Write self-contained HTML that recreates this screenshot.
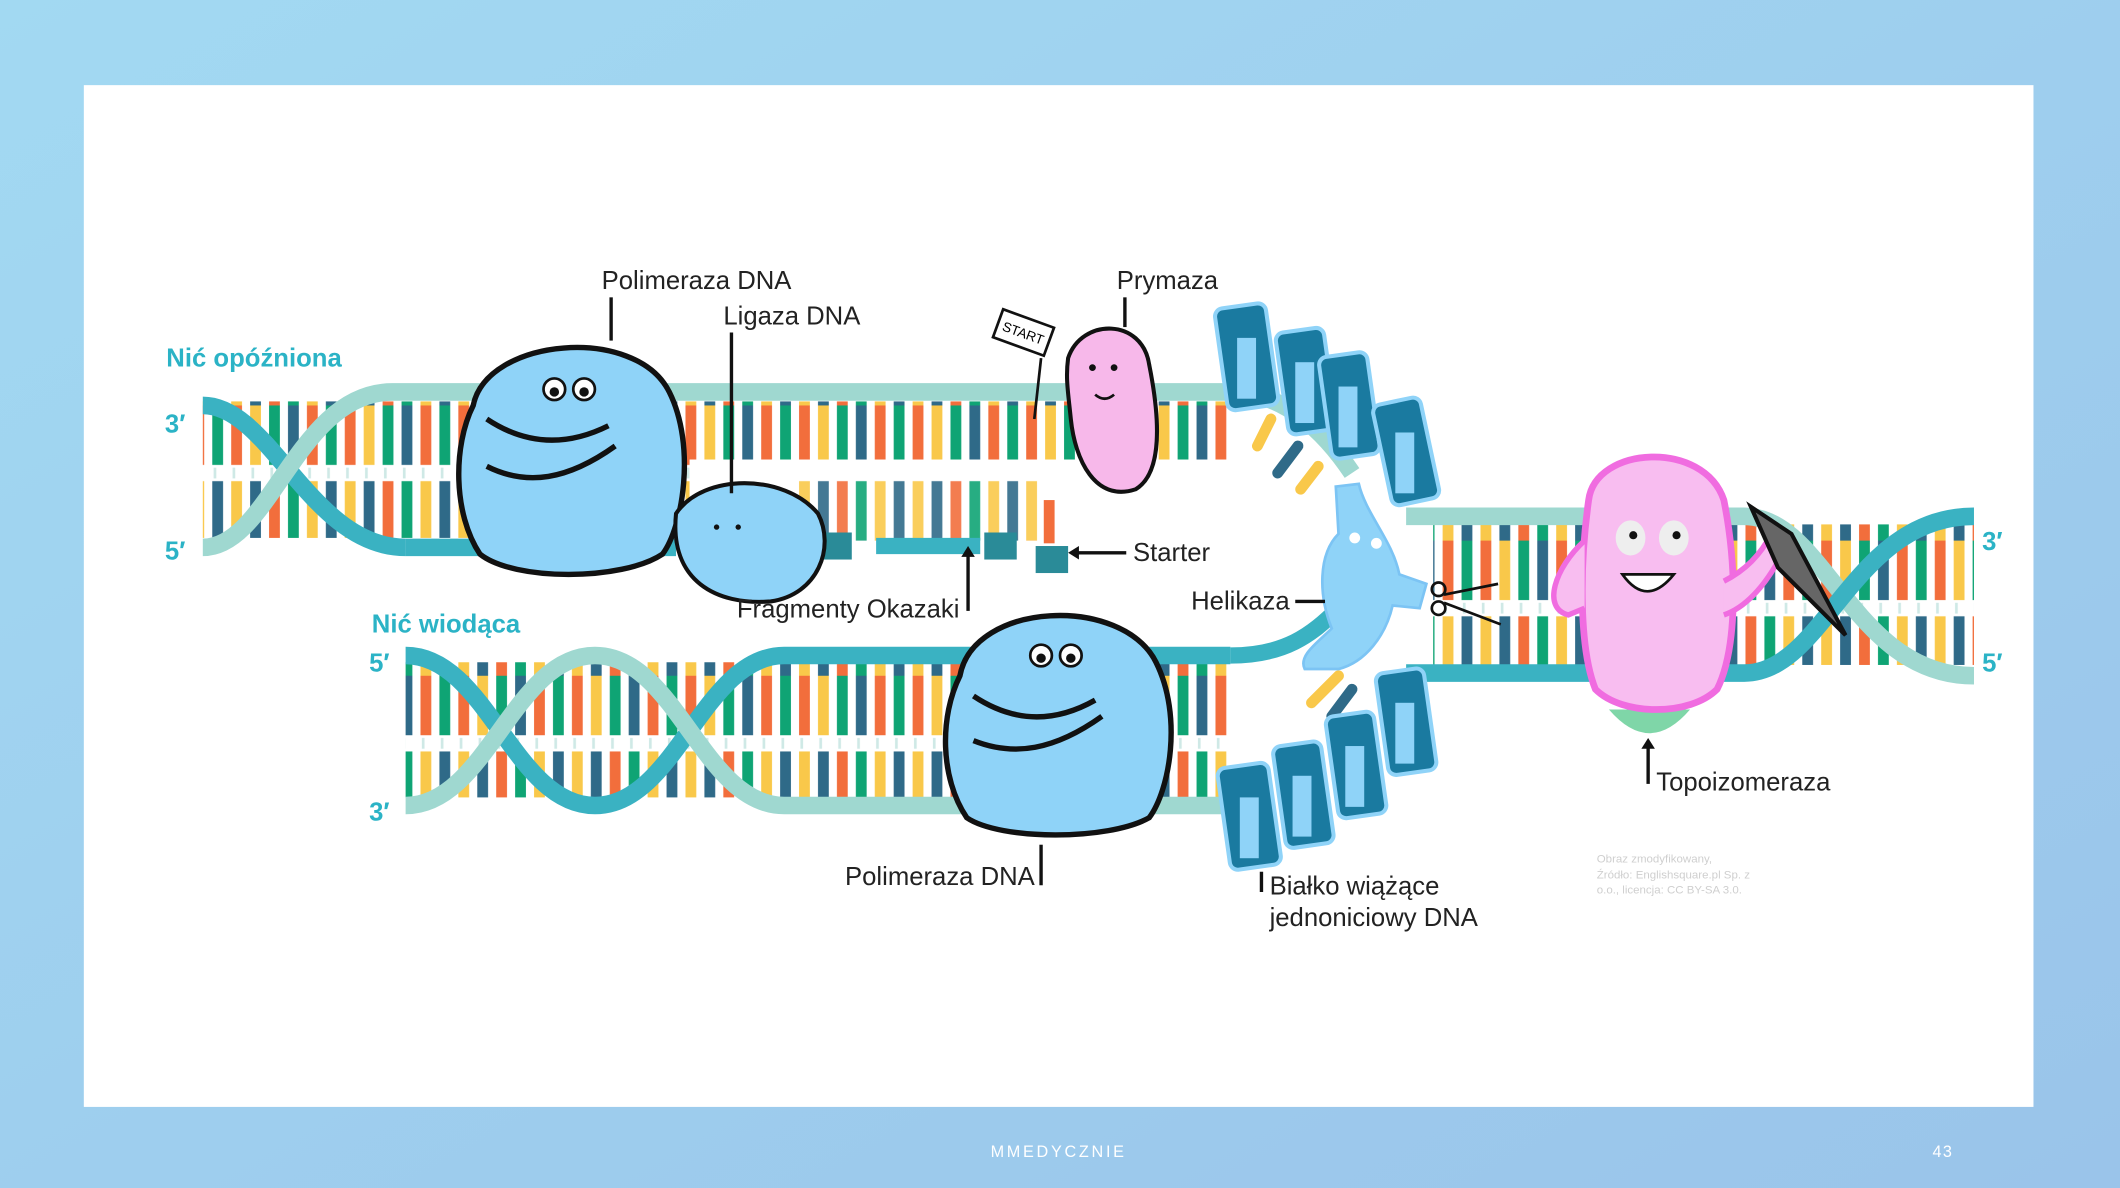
<!DOCTYPE html>
<html><head><meta charset="utf-8"><style>
html,body{margin:0;padding:0}
body{width:2120px;height:1188px;overflow:hidden;background:linear-gradient(135deg,#9fd8f2,#9cc7ea);font-family:"Liberation Sans",sans-serif}
svg{display:block}
</style></head><body>
<svg width="2120" height="1188" viewBox="0 0 1568 879" preserveAspectRatio="none" xmlns="http://www.w3.org/2000/svg" font-family="Liberation Sans, DejaVu Sans, sans-serif">
<defs>
<linearGradient id="bg" x1="0" y1="0" x2="1" y2="1"><stop offset="0" stop-color="#a2d9f2"/><stop offset="1" stop-color="#9ac4ea"/></linearGradient>
<pattern id="bases" patternUnits="userSpaceOnUse" width="84" height="100">
 <rect x="3" y="0" width="8" height="44" fill="#f26e3c"/><rect x="3" y="56" width="8" height="44" fill="#f9c84a"/>
 <rect x="17" y="0" width="8" height="44" fill="#f9c84a"/><rect x="17" y="56" width="8" height="44" fill="#2f6a88"/>
 <rect x="31" y="0" width="8" height="44" fill="#0fa474"/><rect x="31" y="56" width="8" height="44" fill="#f26e3c"/>
 <rect x="45" y="0" width="8" height="44" fill="#2f6a88"/><rect x="45" y="56" width="8" height="44" fill="#0fa474"/>
 <rect x="59" y="0" width="8" height="44" fill="#f26e3c"/><rect x="59" y="56" width="8" height="44" fill="#f9c84a"/>
 <rect x="73" y="0" width="8" height="44" fill="#0fa474"/><rect x="73" y="56" width="8" height="44" fill="#2f6a88"/>
 <g fill="#cfe9e6"><rect x="4" y="46" width="2" height="8"/><rect x="18" y="46" width="2" height="8"/><rect x="32" y="46" width="2" height="8"/><rect x="46" y="46" width="2" height="8"/><rect x="60" y="46" width="2" height="8"/><rect x="74" y="46" width="2" height="8"/></g>
</pattern>
</defs>
<rect width="1568" height="879" fill="url(#bg)"/>
<rect x="62" y="63" width="1442" height="756" fill="#fff"/>

<rect x="150" y="297" width="760" height="101" fill="url(#bases)"/>
<rect x="510" y="340" width="400" height="60" fill="#fff"/>
<rect x="590" y="355" width="180" height="45" fill="url(#bases)" opacity="0.9"/>
<path d="M150 300 C200 300 230 405 300 405" stroke="#3ab2c2" stroke-width="13" fill="none"/>
<path d="M150 405 C200 405 220 290 290 290 L910 290" stroke="#9fd8d0" stroke-width="13" fill="none"/>
<path d="M910 290 C950 290 980 320 1000 350" stroke="#9fd8d0" stroke-width="13" fill="none"/>
<path d="M300 405 L500 405" stroke="#3ab2c2" stroke-width="13" fill="none"/>
<path d="M648 404 L725 404" stroke="#3ab2c2" stroke-width="12" fill="none"/>
<rect x="728" y="394" width="24" height="20" fill="#2a8b98"/>
<rect x="766" y="404" width="24" height="20" fill="#2a8b98"/>
<rect x="608" y="394" width="22" height="20" fill="#2a8b98"/>
<rect x="772" y="370" width="8" height="32" fill="#f26e3c"/>
<g stroke-width="8" stroke-linecap="round">
<line x1="940" y1="310" x2="930" y2="330" stroke="#f9c84a"/>
<line x1="960" y1="330" x2="945" y2="350" stroke="#2f6a88"/>
<line x1="975" y1="345" x2="962" y2="362" stroke="#f9c84a"/>
<line x1="1000" y1="380" x2="985" y2="420" stroke="#2f6a88"/>
<line x1="990" y1="500" x2="970" y2="520" stroke="#f9c84a"/>
<line x1="1000" y1="510" x2="985" y2="530" stroke="#2f6a88"/>
</g>

<rect x="300" y="490" width="610" height="100" fill="url(#bases)"/>
<path d="M300 485 C360 485 380 596 440 596 C500 596 520 485 580 485 L910 485" stroke="#3ab2c2" stroke-width="13" fill="none"/>
<path d="M300 596 C360 596 380 485 440 485 C500 485 520 596 580 596 L910 596" stroke="#9fd8d0" stroke-width="13" fill="none"/>
<path d="M910 485 C950 485 970 470 990 450" stroke="#3ab2c2" stroke-width="12" fill="none"/>

<rect x="1060" y="388" width="400" height="104" fill="url(#bases)"/>
<path d="M1040 382 L1290 382 C1350 382 1370 500 1460 500" stroke="#9fd8d0" stroke-width="13" fill="none"/>
<path d="M1040 498 L1290 498 C1350 498 1370 382 1460 382" stroke="#3ab2c2" stroke-width="13" fill="none"/>

<g fill="#2bb3c6" font-weight="bold" font-size="19">
<text x="123" y="271">Nić opóźniona</text>
<text x="275" y="468">Nić wiodąca</text>
<text x="122" y="320">3′</text><text x="122" y="414">5′</text>
<text x="273" y="497">5′</text><text x="273" y="607">3′</text>
<text x="1466" y="407">3′</text><text x="1466" y="497">5′</text>
</g>

<g stroke="#111" stroke-width="4" fill="#8fd3f8">
<path d="M350 300 C360 250 470 240 495 290 C515 330 505 390 490 410 C460 430 380 430 355 410 C335 380 335 330 350 300Z"/>
<path d="M360 310 C390 330 420 330 450 315 M360 345 C390 360 420 355 455 330" fill="none"/>
</g>
<circle cx="410" cy="288" r="8" fill="#fff" stroke="#111" stroke-width="2"/><circle cx="432" cy="288" r="8" fill="#fff" stroke="#111" stroke-width="2"/>
<circle cx="410" cy="290" r="3.5" fill="#111"/><circle cx="432" cy="290" r="3.5" fill="#111"/>
<path d="M500 380 C520 350 580 350 605 380 C618 405 605 440 570 445 C530 448 495 430 500 380Z" fill="#8fd3f8" stroke="#111" stroke-width="3"/>
<circle cx="530" cy="390" r="2" fill="#111"/><circle cx="546" cy="390" r="2" fill="#111"/>
<g stroke="#111" stroke-width="4" fill="#8fd3f8">
<path d="M710 500 C720 445 830 440 855 490 C875 530 865 585 850 605 C820 622 740 622 715 605 C695 575 695 530 710 500Z"/>
<path d="M720 515 C750 535 780 535 810 518 M720 548 C750 560 780 555 815 530" fill="none"/>
</g>
<circle cx="770" cy="485" r="8" fill="#fff" stroke="#111" stroke-width="2"/><circle cx="792" cy="485" r="8" fill="#fff" stroke="#111" stroke-width="2"/>
<circle cx="770" cy="487" r="3.5" fill="#111"/><circle cx="792" cy="487" r="3.5" fill="#111"/>

<path d="M790 265 C800 235 845 235 850 270 C858 310 860 350 840 362 C810 372 795 340 792 310 C790 290 788 280 790 265Z" fill="#f7b8ea" stroke="#111" stroke-width="3"/>
<circle cx="808" cy="272" r="2.5" fill="#111"/><circle cx="824" cy="272" r="2.5" fill="#111"/>
<path d="M810 292 Q817 298 824 292" stroke="#111" stroke-width="2" fill="none"/>
<line x1="770" y1="265" x2="765" y2="310" stroke="#111" stroke-width="2"/>
<rect x="737" y="235" width="40" height="22" fill="#fff" stroke="#111" stroke-width="2" transform="rotate(20 757 246)"/>
<text x="741" y="250" font-size="10" transform="rotate(20 757 246)">START</text>

<g fill="#1a7aa0" stroke="#8fd3f8" stroke-width="3">
<rect x="903" y="226" width="38" height="76" rx="6" transform="rotate(-8 922 264)"/>
<rect x="948" y="244" width="36" height="76" rx="6" transform="rotate(-8 966 282)"/>
<rect x="980" y="262" width="36" height="76" rx="6" transform="rotate(-8 998 300)"/>
<rect x="1022" y="296" width="36" height="76" rx="6" transform="rotate(-12 1040 334)"/>
<rect x="905" y="566" width="38" height="76" rx="6" transform="rotate(-8 924 604)"/>
<rect x="946" y="550" width="36" height="76" rx="6" transform="rotate(-8 964 588)"/>
<rect x="985" y="528" width="36" height="76" rx="6" transform="rotate(-8 1003 566)"/>
<rect x="1022" y="496" width="36" height="76" rx="6" transform="rotate(-8 1040 534)"/>
</g>
<g fill="#8fd3f8">
<rect x="915" y="250" width="14" height="45"/><rect x="958" y="268" width="14" height="45"/><rect x="990" y="286" width="14" height="45"/><rect x="1032" y="320" width="14" height="45"/>
<rect x="917" y="590" width="14" height="45"/><rect x="956" y="574" width="14" height="45"/><rect x="995" y="552" width="14" height="45"/><rect x="1032" y="520" width="14" height="45"/>
</g>

<path d="M988 360 L1005 358 C1010 380 1030 400 1035 425 L1055 432 L1050 450 L1030 448 C1025 470 1010 490 990 495 L965 495 C960 485 975 475 985 465 C975 440 975 410 990 395 Z" fill="#8fd3f8" stroke="#7cc4f4" stroke-width="2"/>
<circle cx="1002" cy="398" r="4" fill="#fff"/><circle cx="1018" cy="402" r="4" fill="#fff"/>
<g stroke="#111" stroke-width="2" fill="none"><circle cx="1064" cy="436" r="5"/><circle cx="1064" cy="450" r="5"/><line x1="1068" y1="440" x2="1108" y2="432"/><line x1="1068" y1="446" x2="1110" y2="462"/></g>

<path d="M1190 525 Q1220 560 1250 525 Z" fill="#7fd6a8"/>
<path d="M1175 370 C1180 330 1260 325 1275 370 C1285 420 1285 480 1270 510 C1250 530 1200 530 1180 510 C1168 480 1168 420 1175 370Z" fill="#f8bdf0" stroke="#f06ce0" stroke-width="5"/>
<path d="M1172 400 C1150 420 1140 450 1160 455 L1172 450" fill="#f8bdf0" stroke="#f06ce0" stroke-width="4"/>
<path d="M1275 430 C1295 420 1305 405 1310 395 L1318 410 C1305 435 1290 450 1275 455" fill="#f8bdf0" stroke="#f06ce0" stroke-width="4"/>
<ellipse cx="1206" cy="398" rx="11" ry="13" fill="#eee"/><ellipse cx="1238" cy="398" rx="11" ry="13" fill="#eee"/>
<circle cx="1208" cy="396" r="3" fill="#111"/><circle cx="1240" cy="396" r="3" fill="#111"/>
<path d="M1200 425 Q1218 450 1238 425 Z" fill="#fff" stroke="#111" stroke-width="2"/>
<path d="M1295 375 L1325 395 L1365 470 L1315 420 Z" fill="#666" stroke="#111" stroke-width="3"/>

<g fill="#222" font-size="19">
<text x="445" y="214">Polimeraza DNA</text>
<text x="535" y="240">Ligaza DNA</text>
<text x="826" y="214">Prymaza</text>
<text x="838" y="415">Starter</text>
<text x="545" y="457">Fragmenty Okazaki</text>
<text x="881" y="451">Helikaza</text>
<text x="625" y="655">Polimeraza DNA</text>
<text x="939" y="662">Białko wiążące</text>
<text x="939" y="685">jednoniciowy DNA</text>
<text x="1225" y="585">Topoizomeraza</text>
</g>
<g stroke="#111" stroke-width="2.5" fill="none">
<line x1="452" y1="220" x2="452" y2="252"/>
<line x1="541" y1="246" x2="541" y2="365"/>
<line x1="832" y1="220" x2="832" y2="242"/>
<line x1="833" y1="409" x2="795" y2="409"/>
<line x1="716" y1="452" x2="716" y2="410"/>
<line x1="958" y1="445" x2="980" y2="445"/>
<line x1="770" y1="655" x2="770" y2="625"/>
<line x1="933" y1="660" x2="933" y2="645"/>
<line x1="1219" y1="580" x2="1219" y2="552"/>
</g>
<g fill="#111"><path d="M790 409 L798 404 L798 414Z"/><path d="M716 404 L711 412 L721 412Z"/><path d="M1219 546 L1214 554 L1224 554Z"/></g>
<g fill="#cfcfcf" font-size="8.5"><text x="1181" y="638">Obraz zmodyfikowany,</text><text x="1181" y="650">Źródło: Englishsquare.pl Sp. z</text><text x="1181" y="661">o.o., licencja: CC BY-SA 3.0.</text></g>

<text x="783" y="856" fill="#fff" font-size="12" text-anchor="middle" letter-spacing="2">MMEDYCZNIE</text>
<text x="1437" y="856" fill="#fff" font-size="12" text-anchor="middle" letter-spacing="1">43</text>
</svg>
</body></html>
